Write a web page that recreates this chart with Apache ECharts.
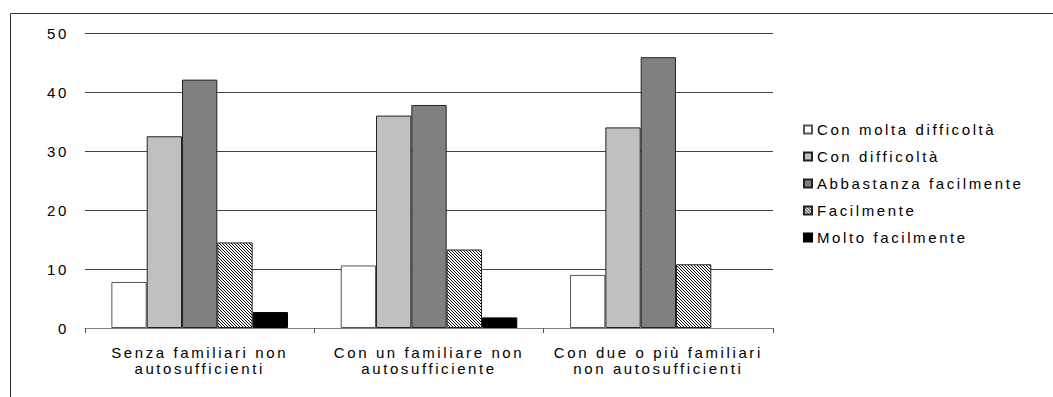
<!DOCTYPE html>
<html>
<head>
<meta charset="utf-8">
<script src="https://cdn.jsdelivr.net/npm/echarts@6/dist/echarts.min.js"></script>
<style>
  html, body { margin: 0; padding: 0; background: #fff; }
  #chart { width: 1053px; height: 397px; }
  #chart svg text { letter-spacing: 2.6px; }
</style>
</head>
<body>
<div id="chart"></div>
<script>
// Household groups (x axis) and answer categories (series)
const categories = [
  'Senza familiari non\nautosufficienti',
  'Con un familiare non\nautosufficiente',
  'Con due o più familiari\nnon autosufficienti'
];
const seriesNames = [
  'Con molta difficoltà',
  'Con difficoltà',
  'Abbastanza facilmente',
  'Facilmente',
  'Molto facilmente'
];
const conMoltaDifficolta = [7.8, 10.6, 9.0];
const conDifficolta = [32.5, 36.0, 34.0];
const abbastanzaFacilmente = [42.1, 37.8, 45.9];
const facilmente = [14.5, 13.3, 10.8];
const moltoFacilmente = [2.7, 1.8, null];
const yTicks = [0, 10, 20, 30, 40, 50];

// Diagonal hatch tile for the "Facilmente" bars
function hatchTile() {
  const c = document.createElement('canvas');
  c.width = 3; c.height = 3;
  const g = c.getContext('2d');
  g.fillStyle = '#fff';
  g.fillRect(0, 0, 3, 3);
  g.fillStyle = '#000';
  for (let i = 0; i < 3; i++) g.fillRect(i, i, 1, 1);
  return c;
}

const values = [conMoltaDifficolta, conDifficolta, abbastanzaFacilmente, facilmente, moltoFacilmente];
const fills = ['#ffffff', '#c0c0c0', '#808080', { image: hatchTile(), repeat: 'repeat' }, '#000000'];
const borders = ['#555555', '#222222', '#222222', '#222222', '#000000'];

const font = 'Liberation Sans, Arial, sans-serif';

const chart = echarts.init(document.getElementById('chart'), null, { renderer: 'svg' });
chart.setOption({
  animation: false,
  backgroundColor: '#ffffff',
  textStyle: { fontFamily: font },
  graphic: [{
    type: 'rect',
    shape: { x: 10.5, y: 13.5, width: 1100, height: 500 },
    style: { fill: 'none', stroke: '#333', lineWidth: 1 },
    silent: true
  }],
  grid: { left: 85, right: 280, top: 33, bottom: 69 },
  legend: {
    orient: 'vertical',
    left: 798,
    top: 117,
    itemWidth: 8,
    itemHeight: 8,
    itemGap: 12,
    icon: 'rect',
    textStyle: { fontSize: 15, color: '#000', fontFamily: font, lineHeight: 15 },
    data: seriesNames
  },
  xAxis: {
    type: 'category',
    data: categories,
    axisLine: { lineStyle: { color: '#808080', width: 1 } },
    axisTick: { show: true, alignWithLabel: false, length: 5, lineStyle: { color: '#555' } },
    axisLabel: { fontSize: 15, color: '#000', lineHeight: 16, margin: 16, interval: 0 }
  },
  yAxis: {
    type: 'value',
    min: yTicks[0],
    max: yTicks[yTicks.length - 1],
    interval: 10,
    axisLine: { show: false },
    axisTick: { show: false },
    axisLabel: { fontSize: 15, color: '#000', margin: 16 },
    splitLine: { lineStyle: { color: '#444', width: 1 } }
  },
  series: seriesNames.map((name, i) => ({
    name: name,
    type: 'bar',
    data: values[i],
    barGap: '0%',
    barCategoryGap: '23%',
    itemStyle: { color: fills[i], borderColor: borders[i], borderWidth: 1 }
  }))
});
</script>
</body>
</html>
